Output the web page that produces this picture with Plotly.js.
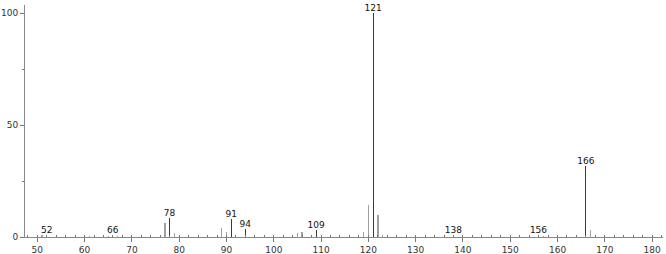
<!DOCTYPE html>
<html><head><meta charset="utf-8">
<script src="https://cdn.plot.ly/plotly-3.0.1.min.js"></script>
<style>html,body{margin:0;padding:0;background:#fff}</style>
</head><body><div id="chart" style="width:666px;height:254px"></div>
<script>
// m/z values and relative intensities
const mz        = [51, 52, 61, 65, 66, 67, 77, 78, 79, 89, 90, 91, 94, 105, 106, 109, 119, 120, 121, 122, 123, 138, 156, 157, 166, 167, 168];
const intensity = [0.8, 1.0, 0.6, 0.6, 1.0, 0.5, 6.2, 8.4, 1.7, 3.9, 2.3, 8.1, 3.8, 1.7, 2.3, 3.2, 2.1, 14.2, 100, 10.0, 0.7, 0.8, 0.8, 0.5, 31.9, 3.3, 0.7];
const labeledPeaks = [52, 66, 78, 91, 94, 109, 121, 138, 156, 166];
const xTicks = [50, 60, 70, 80, 90, 100, 110, 120, 130, 140, 150, 160, 170, 180];
const yTicks = [0, 50, 100];

const lx = [], ly = [], lt = [], ox = [], oy = [];
mz.forEach((m, i) => {
  if (labeledPeaks.includes(m)) { lx.push(m); ly.push(intensity[i]); lt.push(String(m)); }
  else { ox.push(m); oy.push(intensity[i]); }
});

const traces = [
  {type: 'bar', x: ox, y: oy, width: 0.3, marker: {color: '#a0a0a0', line: {width: 0}}, hoverinfo: 'x+y'},
  {type: 'bar', x: lx, y: ly, width: 0.22, marker: {color: '#3a3a3a', line: {width: 0}},
   text: lt, textposition: 'outside', constraintext: 'none', cliponaxis: false,
   textfont: {family: 'DejaVu Sans', size: 9, color: '#111'}, hoverinfo: 'x+y'}
];

const layout = {
  width: 666, height: 254,
  margin: {l: 25, r: 3, t: 5, b: 16.5, pad: 0},
  paper_bgcolor: '#fff', plot_bgcolor: '#fff',
  showlegend: false, bargap: 0, barmode: 'overlay',
  font: {family: 'DejaVu Sans', size: 9, color: '#333'},
  xaxis: {
    range: [47.4, 182.3], tickmode: 'array', tickvals: xTicks, ticktext: xTicks.map(String),
    ticks: 'outside', ticklen: 4, tickcolor: '#777', tickwidth: 1,
    showline: true, linecolor: '#888', linewidth: 1, showgrid: false, zeroline: false,
    tickfont: {family: 'DejaVu Sans', size: 9, color: '#333'},
    minor: {dtick: 2, tick0: 0, ticks: 'inside', ticklen: 2, tickcolor: '#777', showgrid: false}
  },
  yaxis: {
    range: [0, 103.7], tickmode: 'array', tickvals: yTicks, ticktext: yTicks.map(String),
    ticks: 'outside', ticklen: 4, tickcolor: '#777', tickwidth: 1,
    showline: true, linecolor: '#888', linewidth: 1, showgrid: false, zeroline: false,
    tickfont: {family: 'DejaVu Sans', size: 9, color: '#333'},
    minor: {tickvals: [25, 75], ticks: 'outside', ticklen: 2, tickcolor: '#777', showgrid: false}
  }
};

Plotly.newPlot('chart', traces, layout, {staticPlot: true, displayModeBar: false});
</script></body></html>
